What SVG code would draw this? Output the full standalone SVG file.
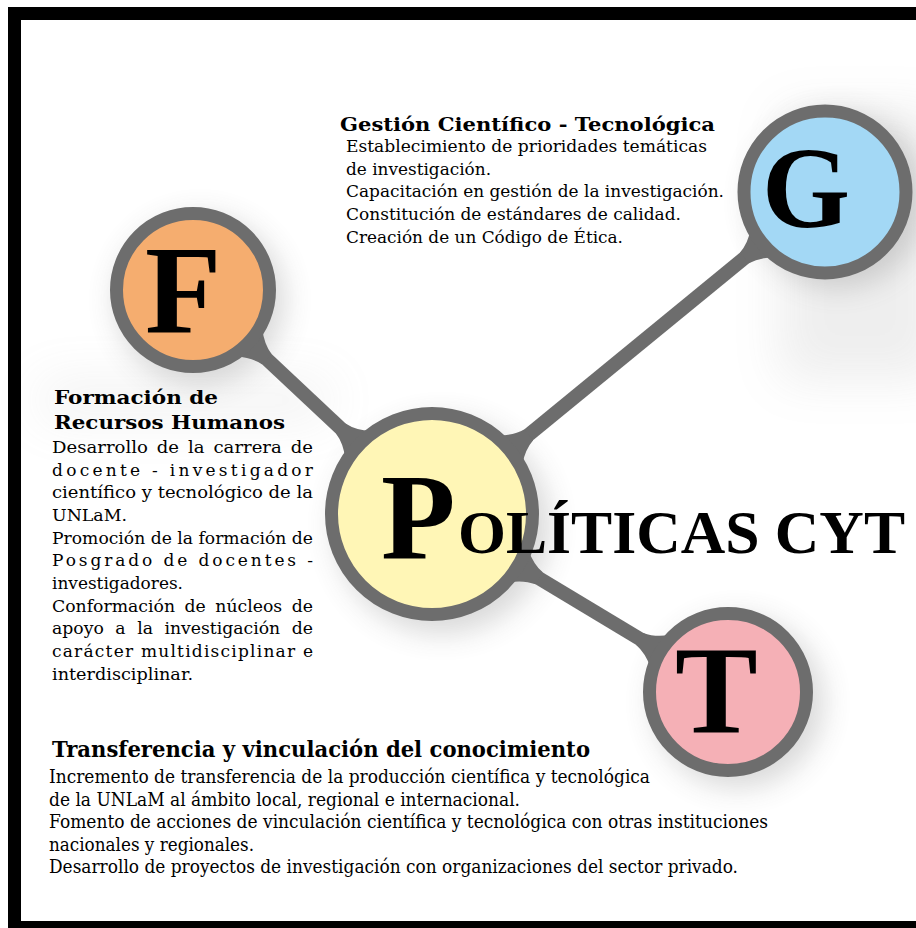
<svg xmlns="http://www.w3.org/2000/svg" width="916" height="928" viewBox="0 0 916 928">
<style>
.ring{stroke:#6d6d6d;stroke-width:13}
.big{font-family:"Liberation Serif","Times New Roman",serif;font-weight:bold;fill:#000}
.t{font-family:"DejaVu Serif","Liberation Serif",serif;font-size:17px;fill:#000}
.h{font-family:"DejaVu Serif","Liberation Serif",serif;font-size:19px;font-weight:bold;fill:#000}
.tt{font-family:"DejaVu Serif","Liberation Serif",serif;font-size:19px;fill:#000}
.th{font-family:"DejaVu Serif","Liberation Serif",serif;font-size:22px;font-weight:bold;fill:#000}
.con{stroke:#6d6d6d;stroke-width:14;fill:none}
.neck{fill:#6d6d6d}
</style>
<defs>
<filter id="sh" x="-50%" y="-50%" width="200%" height="200%"><feGaussianBlur stdDeviation="14"/></filter>
<filter id="sh2" x="-50%" y="-50%" width="200%" height="200%"><feGaussianBlur stdDeviation="25"/></filter>
<path id="nk" d="M-6,-19 Q6,-9 18,-7 L18,7 Q6,9 -6,19 Z"/>
</defs>
<rect width="916" height="928" fill="#fff"/>
<!-- soft shadows -->
<g opacity="0.12" filter="url(#sh2)">
<rect x="780" y="110" width="160" height="270" fill="#777"/>
<rect x="40" y="380" width="290" height="40" fill="#999"/>
</g>
<g opacity="0.22" filter="url(#sh)">
<circle cx="200" cy="300" r="85" fill="#555"/>
<circle cx="838" cy="200" r="88" fill="#555"/>
<circle cx="442" cy="526" r="108" fill="#555"/>
<circle cx="738" cy="702" r="86" fill="#555"/>
</g>
<!-- frame -->
<g id="frame">
<rect x="8" y="7" width="13" height="921" fill="#000"/>
<rect x="8" y="7" width="908" height="13" fill="#000"/>
<rect x="8" y="921" width="908" height="7" fill="#000"/>
</g>
<g id="connectors">
<line class="con" x1="193" y1="290" x2="432" y2="514"/>
<line class="con" x1="432" y1="514" x2="825" y2="192"/>
<line class="con" x1="432" y1="514" x2="728" y2="692"/>
<use href="#nk" class="neck" transform="translate(253.6,346.8) rotate(43.15)"/>
<use href="#nk" class="neck" transform="translate(353.9,440.8) rotate(223.15)"/>
<use href="#nk" class="neck" transform="translate(514.8,446.2) rotate(-39.3)"/>
<use href="#nk" class="neck" transform="translate(758.4,246.5) rotate(140.7)"/>
<use href="#nk" class="neck" transform="translate(523.7,569.1) rotate(31)"/>
<use href="#nk" class="neck" transform="translate(655.2,648.2) rotate(211)"/>
</g>
<g id="node-F">
<circle class="ring" cx="193" cy="290" r="76.5" fill="#f5ad6f"/>
<text class="big" x="145" y="332" font-size="125">F</text>
</g>
<g id="node-G">
<circle class="ring" cx="825" cy="192" r="81" fill="#a3d8f5"/>
<text class="big" x="762" y="227" font-size="116" textLength="88" lengthAdjust="spacingAndGlyphs">G</text>
</g>
<g id="node-P">
<circle class="ring" cx="432" cy="514" r="100.5" fill="#fff6b6"/>
<text class="big" x="381" y="559" font-size="122">P</text>
<text class="big" x="458" y="553" font-size="62" textLength="447" lengthAdjust="spacingAndGlyphs">OLÍTICAS CYT</text>
</g>
<g id="node-T">
<circle class="ring" cx="728" cy="692" r="78.5" fill="#f5b0b6"/>
<text class="big" x="675" y="733" font-size="124">T</text>
</g>
<g id="text-G">
<text class="h" x="340" y="131" textLength="375" lengthAdjust="spacingAndGlyphs">Gestión Científico - Tecnológica</text>
<text class="t" x="346" y="152" textLength="361" lengthAdjust="spacingAndGlyphs">Establecimiento de prioridades temáticas</text>
<text class="t" x="346" y="175" textLength="145" lengthAdjust="spacingAndGlyphs">de investigación.</text>
<text class="t" x="346" y="197" textLength="378" lengthAdjust="spacingAndGlyphs">Capacitación en gestión de la investigación.</text>
<text class="t" x="346" y="220" textLength="335" lengthAdjust="spacingAndGlyphs">Constitución de estándares de calidad.</text>
<text class="t" x="346" y="243" textLength="277" lengthAdjust="spacingAndGlyphs">Creación de un Código de Ética.</text>
</g>
<g id="text-F">
<text class="h" x="54" y="404" textLength="164" lengthAdjust="spacingAndGlyphs">Formación de</text>
<text class="h" x="54" y="429" textLength="231" lengthAdjust="spacingAndGlyphs">Recursos Humanos</text>
<text class="t" x="52" y="453" textLength="261" lengthAdjust="spacingAndGlyphs" word-spacing="3">Desarrollo de la carrera de</text>
<text class="t" x="52" y="476" textLength="261" lengthAdjust="spacing">docente - investigador</text>
<text class="t" x="52" y="498" textLength="261" lengthAdjust="spacingAndGlyphs">científico y tecnológico de la</text>
<text class="t" x="52" y="521" textLength="75" lengthAdjust="spacingAndGlyphs">UNLaM.</text>
<text class="t" x="52" y="544" textLength="261" lengthAdjust="spacingAndGlyphs">Promoción de la formación de</text>
<text class="t" x="52" y="566" textLength="261" lengthAdjust="spacing">Posgrado de docentes -</text>
<text class="t" x="52" y="589" textLength="131" lengthAdjust="spacingAndGlyphs">investigadores.</text>
<text class="t" x="52" y="612" textLength="261" lengthAdjust="spacingAndGlyphs" word-spacing="4">Conformación de núcleos de</text>
<text class="t" x="52" y="634" textLength="261" lengthAdjust="spacingAndGlyphs" word-spacing="6">apoyo a la investigación de</text>
<text class="t" x="52" y="657" textLength="261" lengthAdjust="spacing">carácter multidisciplinar e</text>
<text class="t" x="52" y="680" textLength="141" lengthAdjust="spacingAndGlyphs">interdisciplinar.</text>
</g>
<g id="text-T">
<text class="th" x="52" y="757" textLength="538" lengthAdjust="spacingAndGlyphs">Transferencia y vinculación del conocimiento</text>
<text class="tt" x="49" y="783" textLength="601" lengthAdjust="spacingAndGlyphs">Incremento de transferencia de la producción científica y tecnológica</text>
<text class="tt" x="49" y="806" textLength="471" lengthAdjust="spacingAndGlyphs">de la UNLaM al ámbito local, regional e internacional.</text>
<text class="tt" x="49" y="828" textLength="719" lengthAdjust="spacingAndGlyphs">Fomento de acciones de vinculación científica y tecnológica con otras instituciones</text>
<text class="tt" x="49" y="851" textLength="205" lengthAdjust="spacingAndGlyphs">nacionales y regionales.</text>
<text class="tt" x="49" y="873" textLength="689" lengthAdjust="spacingAndGlyphs">Desarrollo de proyectos de investigación con organizaciones del sector privado.</text>
</g>
</svg>
